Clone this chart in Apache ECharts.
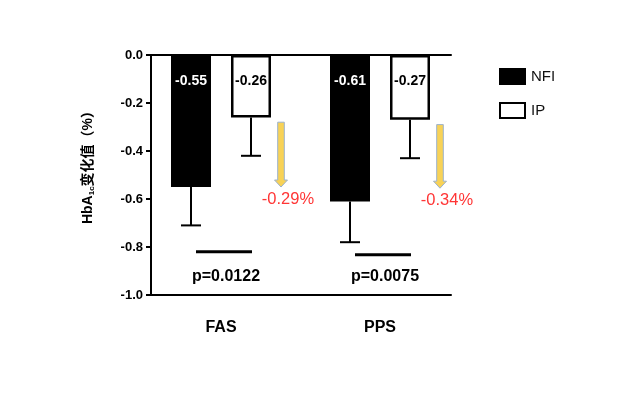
<!DOCTYPE html>
<html>
<head>
<meta charset="utf-8">
<script src="https://cdn.jsdelivr.net/npm/echarts@6/dist/echarts.min.js"></script>
<style>html,body{margin:0;padding:0;background:#fff;}#c{width:640px;height:394px;}</style>
</head>
<body>
<div id="c"></div>
<script>
const categories = ['FAS', 'PPS'];
const seriesNames = ['NFI', 'IP'];
const nfiMean = [-0.55, -0.61];
const ipMean = [-0.26, -0.27];
const nfiErrLow = [-0.71, -0.78];
const ipErrLow = [-0.42, -0.43];
const arrowTop = [-0.28, -0.29];
const arrowTip = [-0.55, -0.555];
const diffLabels = ['-0.29%', '-0.34%'];
const sigLineY = [-0.82, -0.832];
const pLabelY = [-0.925, -0.925];
const pLabels = ['p=0.0122', 'p=0.0075'];
const yMin = -1.0, yMax = 0.0, yStep = 0.2;

const FONT = 'Arial, "Liberation Sans", "Noto Sans CJK SC", sans-serif';
const chart = echarts.init(document.getElementById('c'), null, {renderer: 'canvas'});

function errRender(offset) {
  return function (params, api) {
    const c = api.coord([api.value(0), api.value(1)]);
    const e = api.coord([api.value(0), api.value(2)]);
    const x = c[0] + offset;
    const st = {stroke: '#000', lineWidth: 2};
    return {type: 'group', children: [
      {type: 'line', shape: {x1: x, y1: c[1], x2: x, y2: e[1]}, style: st},
      {type: 'line', shape: {x1: x - 10, y1: e[1], x2: x + 10, y2: e[1]}, style: st}
    ]};
  };
}

const option = {
  animation: false,
  backgroundColor: '#fff',
  legend: {
    data: seriesNames,
    orient: 'vertical',
    left: 494, top: 63,
    itemWidth: 25, itemHeight: 15, itemGap: 17,
    icon: 'rect',
    textStyle: {fontFamily: FONT, fontSize: 15, color: '#111', padding: [0, 0, 0, 1]}
  },
  grid: [
    {left: 151, top: 55, width: 300, height: 240},
    {left: 141.5, top: 55, width: 318, height: 240}
  ],
  xAxis: [
    {gridIndex: 0, type: 'value', min: 0, max: 1, position: 'bottom',
     axisLine: {show: true, onZero: false, lineStyle: {color: '#000', width: 2}},
     axisTick: {show: false}, axisLabel: {show: false}, splitLine: {show: false}},
    {gridIndex: 0, type: 'value', min: 0, max: 1, position: 'top',
     axisLine: {show: true, onZero: false, lineStyle: {color: '#000', width: 2}},
     axisTick: {show: false}, axisLabel: {show: false}, splitLine: {show: false}},
    {gridIndex: 1, type: 'category', data: categories, position: 'bottom',
     axisLine: {show: false, onZero: false}, axisTick: {show: false},
     axisLabel: {margin: 25, fontFamily: FONT, fontSize: 16, fontWeight: 'bold', color: '#000'}}
  ],
  yAxis: [
    {gridIndex: 0, type: 'value', min: yMin, max: yMax, interval: yStep,
     name: '{a|HbA}{s|1c}{a|变化值（%）}',
     nameLocation: 'middle', nameGap: 55,
     nameTextStyle: {padding: [0, 0, 0, 22],
       rich: {
         a: {fontFamily: FONT, fontSize: 14, fontWeight: 'bold', color: '#000'},
         s: {fontFamily: FONT, fontSize: 8, fontWeight: 'bold', color: '#000', padding: [7, 0, 0, 0]}
       }},
     axisLine: {show: true, lineStyle: {color: '#000', width: 2}},
     axisTick: {show: true, length: 5, lineStyle: {color: '#000', width: 2}},
     axisLabel: {margin: 8, fontFamily: FONT, fontSize: 13, fontWeight: 'bold', color: '#000',
       formatter: v => v.toFixed(1)},
     splitLine: {show: false}},
    {gridIndex: 1, type: 'value', min: yMin, max: yMax, show: false}
  ],
  series: [
    {name: 'NFI', type: 'bar', xAxisIndex: 2, yAxisIndex: 1, data: nfiMean,
     barWidth: 40, barGap: '50%',
     itemStyle: {color: '#000', borderColor: '#000', borderWidth: 2},
     label: {show: true, position: 'insideTop', distance: 19, color: '#fff',
       fontFamily: FONT, fontSize: 14, fontWeight: 'bold', formatter: p => p.value.toFixed(2)}},
    {name: 'IP', type: 'bar', xAxisIndex: 2, yAxisIndex: 1, data: ipMean,
     barWidth: 40, barGap: '50%',
     itemStyle: {color: '#fff', borderColor: '#000', borderWidth: 2.5},
     label: {show: true, position: 'insideTop', distance: 19, color: '#000',
       fontFamily: FONT, fontSize: 14, fontWeight: 'bold', formatter: p => p.value.toFixed(2)}},
    {type: 'custom', xAxisIndex: 2, yAxisIndex: 1, z: 5,
     data: categories.map((c, i) => [i, nfiMean[i], nfiErrLow[i]]),
     renderItem: errRender(-30)},
    {type: 'custom', xAxisIndex: 2, yAxisIndex: 1, z: 5,
     data: categories.map((c, i) => [i, ipMean[i], ipErrLow[i]]),
     renderItem: errRender(30)},
    {type: 'custom', xAxisIndex: 2, yAxisIndex: 1, z: 5,
     data: categories.map((c, i) => [i, sigLineY[i], pLabelY[i], pLabels[i]]),
     renderItem: function (params, api) {
       const a = api.coord([api.value(0), api.value(1)]);
       const b = api.coord([api.value(0), api.value(2)]);
       const i = params.dataIndex;
       return {type: 'group', children: [
         {type: 'line', shape: {x1: a[0] - 25, y1: a[1], x2: a[0] + 31, y2: a[1]},
          style: {stroke: '#000', lineWidth: 3}},
         {type: 'text', x: b[0] + 5, y: b[1],
          style: {text: pLabels[i], align: 'center', verticalAlign: 'middle',
            font: 'bold 16px ' + FONT, fill: '#000'}}
       ]};
     }},
    {type: 'custom', xAxisIndex: 2, yAxisIndex: 1, z: 6,
     data: categories.map((c, i) => [i, arrowTop[i], arrowTip[i]]),
     renderItem: function (params, api) {
       const t = api.coord([api.value(0), api.value(1)]);
       const p = api.coord([api.value(0), api.value(2)]);
       const i = params.dataIndex;
       const x = t[0] + 60;
       const sw = 3.3, hw = 6.5, hh = 7;
       const pts = [[x - sw, t[1]], [x + sw, t[1]], [x + sw, p[1] - hh], [x + hw, p[1] - hh],
                    [x, p[1]], [x - hw, p[1] - hh], [x - sw, p[1] - hh]];
       return {type: 'group', children: [
         {type: 'polygon', shape: {points: pts},
          style: {fill: '#F8D256', stroke: '#9CB2CE', lineWidth: 1}},
         {type: 'text', x: x + 7, y: p[1] + 12,
          style: {text: diffLabels[i], align: 'center', verticalAlign: 'middle',
            font: '16.5px ' + FONT, fill: '#FF3535'}}
       ]};
     }}
  ]
};
chart.setOption(option);
</script>
</body>
</html>
